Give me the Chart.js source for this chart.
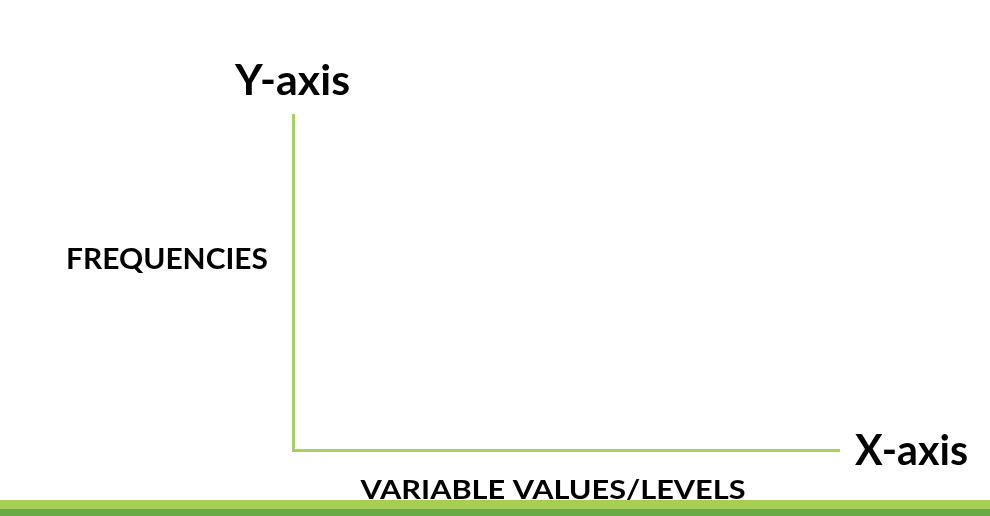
<!DOCTYPE html>
<html>
<head>
<meta charset="utf-8">
<script src="https://cdn.jsdelivr.net/npm/chart.js@4.4.0/dist/chart.umd.min.js"></script>
<style>
  html, body { margin: 0; padding: 0; background: #ffffff; }
  #wrap { width: 990px; height: 516px; position: relative; }
</style>
</head>
<body>
<div id="wrap"><canvas id="c"></canvas></div>
<script>
// Data (the reference is an empty axes diagram: no marks)
const categories = [];
const seriesValues = [];
const yAxisName = "Y-axis";
const xAxisName = "X-axis";
const yAxisTitle = "FREQUENCIES";
const xAxisTitle = "VARIABLE VALUES/LEVELS";

const AXIS_GREEN = "#a9d062";
const FONT = "Lato, 'Open Sans', sans-serif";

// draw text, stretched horizontally to a target width (mimics the wider original face)
function fitText(ctx, text, x, y, align, targetW) {
  const w = ctx.measureText(text).width;
  const s = Math.max(0.8, Math.min(1.3, targetW / w));
  let left;
  if (align === 'center') left = x - targetW / 2;
  else if (align === 'right') left = x - targetW;
  else left = x;
  ctx.save();
  ctx.translate(left, y);
  ctx.scale(s, 1);
  ctx.textAlign = 'left';
  ctx.fillText(text, 0, 0);
  ctx.restore();
}

const labelsPlugin = {
  id: 'diagramLabels',
  beforeDraw(chart) {
    const ctx = chart.ctx;
    const w = chart.width, h = chart.height;
    ctx.save();
    ctx.fillStyle = "#ffffff";
    ctx.fillRect(0, 0, w, h);
    // bottom decorative strip
    ctx.fillStyle = "#a6ce55";
    ctx.fillRect(0, 500, w, 9);
    ctx.fillStyle = "#6aaa46";
    ctx.fillRect(0, 509, w, h - 509);
    ctx.restore();
  },
  afterDraw(chart) {
    const ctx = chart.ctx;
    const a = chart.chartArea;
    ctx.save();
    ctx.fillStyle = "#000000";
    ctx.textBaseline = "alphabetic";

    ctx.font = "bold 42px " + FONT;
    fitText(ctx, yAxisName, a.left - 0.5, a.top - 20, 'center', 115);
    fitText(ctx, xAxisName, a.right + 16, a.bottom + 15, 'left', 113);

    ctx.font = "bold 29px " + FONT;
    fitText(ctx, yAxisTitle, a.left - 25, 269, 'right', 202);

    ctx.font = "bold 26px " + FONT;
    fitText(ctx, xAxisTitle, 553, a.bottom + 49, 'center', 385);
    ctx.restore();
  }
};

new Chart(document.getElementById('c'), {
  type: 'scatter',
  data: {
    labels: categories,
    datasets: [{ label: 'values', data: seriesValues }]
  },
  options: {
    responsive: true,
    maintainAspectRatio: false,
    animation: false,
    layout: { padding: { left: 293, top: 115, right: 151, bottom: 66 } },
    plugins: { legend: { display: false }, tooltip: { enabled: false }, title: { display: false } },
    scales: {
      x: {
        type: 'linear', min: 0, max: 10,
        ticks: { display: false },
        grid: { display: false, drawTicks: false },
        border: { display: true, color: AXIS_GREEN, width: 3 },
        title: { display: false }
      },
      y: {
        type: 'linear', min: 0, max: 10,
        ticks: { display: false },
        grid: { display: false, drawTicks: false },
        border: { display: true, color: AXIS_GREEN, width: 3 },
        title: { display: false }
      }
    }
  },
  plugins: [labelsPlugin]
});
</script>
</body>
</html>
